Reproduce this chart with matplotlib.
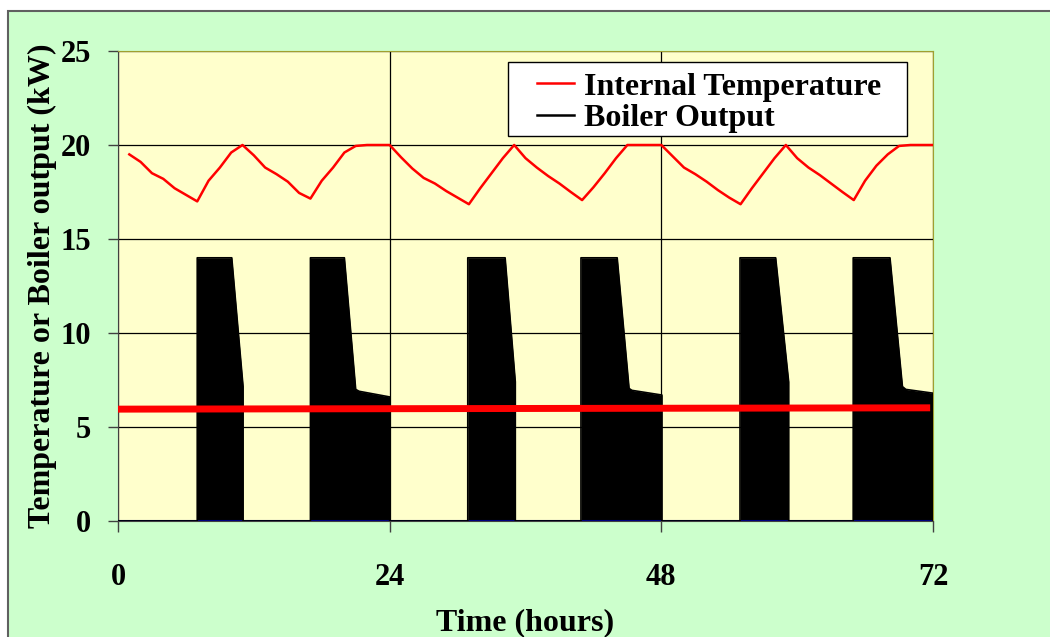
import numpy as np
import matplotlib.pyplot as plt
from matplotlib.patches import Rectangle

# hourly internal temperature (deg C), hours 1..72
hours = np.arange(1, 73)
internal_temp = [
    19.5, 19.1, 18.5, 18.2, 17.7, 17.35, 17.0, 18.1, 18.8, 19.6, 20.0, 19.45,
    18.8, 18.45, 18.05, 17.45, 17.15, 18.1, 18.8, 19.6, 19.95, 20.0, 20.0, 20.0,
    19.35, 18.75, 18.25, 17.95, 17.55, 17.2, 16.85, 17.7, 18.5, 19.3, 20.0, 19.3,
    18.8, 18.35, 17.95, 17.5, 17.07, 17.75, 18.5, 19.3, 20.0, 20.0, 20.0, 20.0,
    19.4, 18.8, 18.45, 18.05, 17.6, 17.2, 16.85, 17.7, 18.5, 19.3, 20.0, 19.3,
    18.8, 18.4, 17.95, 17.5, 17.07, 18.1, 18.9, 19.5, 19.95, 20.0, 20.0, 20.0,
]

# boiler output (kW), on/off edges
boiler_t = [0, 7, 7, 10.05, 11.05, 11.05,
            17, 17, 20.0, 21.0, 21.3, 24, 24,
            30.9, 30.9, 34.2, 35.1, 35.1,
            40.9, 40.9, 44.1, 45.15, 45.4, 48.05, 48.05,
            54.95, 54.95, 58.1, 59.25, 59.25,
            64.95, 64.95, 68.2, 69.3, 69.6, 72, 72]
boiler_kw = [0, 0, 14, 14, 7.15, 0,
             0, 14, 14, 7.0, 6.9, 6.6, 0,
             0, 14, 14, 7.4, 0,
             0, 14, 14, 7.05, 6.95, 6.7, 0,
             0, 14, 14, 7.4, 0,
             0, 14, 14, 7.15, 7.0, 6.8, 0]

outside_t = [0, 71.75]
outside_temp = [5.95, 6.02]

zero_t = [0, 72]
zero_val = [0, 0]

x_ticks = [0, 24, 48, 72]
y_ticks = [0, 5, 10, 15, 20, 25]

plt.rcParams['font.family'] = ['Liberation Serif', 'DejaVu Serif']
plt.rcParams['font.weight'] = 'bold'

fig = plt.figure(figsize=(10.5, 6.37), dpi=100)
fig.patch.set_facecolor('white')
fig.patches.append(Rectangle((8/1050, -0.1), 1.2, 1 - 11/637 + 0.1, transform=fig.transFigure,
                             facecolor='#CCFFCC', edgecolor='#606060', lw=1.5, zorder=-10))

ax = fig.add_axes([118/1050, 1 - 521/637, 815/1050, 470/637])
ax.set_zorder(5)
ax.set_facecolor('#FFFFCC')

ax.fill_between(boiler_t, boiler_kw, 0, color='black', lw=0, zorder=2)
ax.plot(zero_t, zero_val, color='#000080', lw=1.5, zorder=3)
ax.plot(boiler_t, boiler_kw, color='black', lw=1.2, zorder=4, label='Boiler Output')
ax.plot(hours, internal_temp, color='#FF0000', lw=1.8, zorder=5, label='Internal Temperature')
ax.plot(outside_t, outside_temp, color='#FF0000', lw=5, solid_capstyle='butt', zorder=6)

ax.set_xlim(0, 72)
ax.set_ylim(0, 25)
ax.set_xticks(x_ticks)
ax.set_yticks(y_ticks)
ax.grid(True, color='black', lw=0.9, zorder=1)
ax.set_axisbelow(True)

for s in ['top', 'right']:
    ax.spines[s].set_color('#A0A030')
for s in ['left', 'bottom']:
    ax.spines[s].set_color('#404040')
ax.tick_params(axis='y', direction='out', length=7.2, width=1, color='#404040', pad=12, labelsize=22)
ax.tick_params(axis='x', direction='out', length=8, width=1, color='#404040', pad=22, labelsize=22)

ax.set_ylabel('Temperature or Boiler output (kW)', fontsize=23, fontweight='bold')
ax.yaxis.set_label_coords(-0.075, 0.5)
ax.set_xlabel('Time (hours)', fontsize=23, fontweight='bold')
ax.xaxis.set_label_coords(0.5, -0.185)

# legend box
ax.add_patch(Rectangle((0.4785, 0.819), 0.4896, 0.1574, transform=ax.transAxes,
                       facecolor='white', edgecolor='black', lw=1, zorder=7))
h, l = ax.get_legend_handles_labels()
leg = ax.legend(h[::-1], l[::-1], loc='upper left', bbox_to_anchor=(0.5141, 0.955),
                frameon=False, borderpad=0, borderaxespad=0, handlelength=1.15,
                handletextpad=0.31, labelspacing=0.06, prop={'size': 23, 'weight': 'bold'})
for line in leg.get_lines():
    line.set_linewidth(1.8)
leg.set_zorder(8)

fig.savefig('out.png', dpi=100, facecolor=fig.get_facecolor())
